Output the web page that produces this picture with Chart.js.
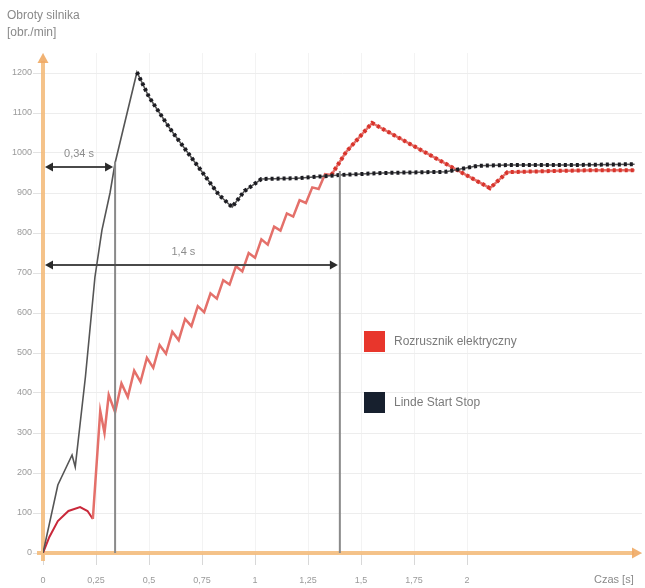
<!DOCTYPE html>
<html>
<head>
<meta charset="utf-8">
<script src="https://cdn.jsdelivr.net/npm/chart.js@4.4.0/dist/chart.umd.min.js"></script>
<style>
  html, body { margin: 0; padding: 0; background: #fff; }
  #wrap { width: 645px; height: 588px; position: relative; }
</style>
</head>
<body>
<div id="wrap"><canvas id="speedChart"></canvas></div>
<script>
  // Axis ticks
  const timeTicks = [0, 0.25, 0.5, 0.75, 1, 1.25, 1.5, 1.75, 2];
  const speedTicks = [0, 100, 200, 300, 400, 500, 600, 700, 800, 900, 1000, 1100, 1200];

  // Linde Start Stop (black)
  const lindeTime  = [0, 0.07, 0.137, 0.152, 0.2, 0.245, 0.278, 0.316, 0.34, 0.377, 0.443, 0.5, 0.6, 0.74, 0.83, 0.892, 0.95, 1.03, 1.2, 1.4, 1.6, 1.9, 2.05, 2.2, 2.5, 2.79];
  const lindeSpeed = [0, 170, 245, 215, 440, 690, 807, 900, 975, 1057, 1202, 1140, 1060, 960, 895, 865, 905, 935, 937, 945, 950, 953, 968, 970, 970, 972];
  const lindeBeadFrom = 10;

  // Rozrusznik elektryczny (red)
  const starterTime = [0, 0.03, 0.07, 0.12, 0.175, 0.21, 0.235, 0.27, 0.29,
    0.31, 0.34, 0.37, 0.40, 0.43, 0.46, 0.49, 0.52, 0.55, 0.58, 0.61, 0.64, 0.67, 0.70,
    0.73, 0.76, 0.79, 0.82, 0.85, 0.88, 0.91, 0.94, 0.97, 1.00, 1.03, 1.06, 1.09, 1.12,
    1.15, 1.18, 1.21, 1.24, 1.27, 1.30, 1.33, 1.36,
    1.43, 1.552, 2.108, 2.19, 2.4, 2.6, 2.79];
  const starterSpeed = [0, 40, 80, 105, 115, 105, 85, 355, 300,
    395, 352, 424, 390, 456, 428, 488, 463, 520, 498, 553, 532, 585, 567,
    617, 602, 649, 636, 682, 671, 717, 704, 750, 738, 784, 771, 816, 806,
    849, 841, 882, 875, 914, 910, 947, 945,
    1003, 1075, 912, 952, 955, 957, 957];
  const starterHumpEnd = 6;
  const starterBeadFrom = 44;

  // Dimension markers
  const markerTime  = [0.34, 1.4];
  const markerTop   = [978, 955];
  const arrowSpeed  = [965, 720];
  const markerLabel = ['0,34 s', '1,4 s'];

  const legendLabels = ['Rozrusznik elektryczny', 'Linde Start Stop'];
  const legendColors = ['#e8362c', '#17202e'];

  const FONT = "'Liberation Sans', Arial, sans-serif";

  function points(ts, vs) {
    return ts.map((t, i) => ({ x: t, y: vs[i] }));
  }

  function arrowHead(ctx, x, y, dir) {
    ctx.beginPath();
    ctx.moveTo(x, y);
    ctx.lineTo(x - dir * 8, y - 4.5);
    ctx.lineTo(x - dir * 8, y + 4.5);
    ctx.closePath();
    ctx.fill();
  }

  const overlay = {
    id: 'overlay',
    beforeDatasetsDraw(c) {
      const ctx = c.ctx;
      const xs = c.scales.x, ys = c.scales.y;
      const x0 = xs.getPixelForValue(0);
      const y0 = ys.getPixelForValue(0);
      const top = c.chartArea.top;
      const right = c.chartArea.right;
      ctx.save();
      ctx.strokeStyle = 'rgba(243, 184, 118, 0.85)';
      ctx.fillStyle = 'rgba(240, 170, 100, 0.9)';
      ctx.lineWidth = 4;
      ctx.beginPath();
      ctx.moveTo(x0, y0 + 8);
      ctx.lineTo(x0, top + 8);
      ctx.moveTo(x0 - 6, y0);
      ctx.lineTo(right - 8, y0);
      ctx.stroke();
      ctx.beginPath();
      ctx.moveTo(x0, top);
      ctx.lineTo(x0 - 5.5, top + 10);
      ctx.lineTo(x0 + 5.5, top + 10);
      ctx.closePath();
      ctx.fill();
      ctx.beginPath();
      ctx.moveTo(right, y0);
      ctx.lineTo(right - 10, y0 - 5.5);
      ctx.lineTo(right - 10, y0 + 5.5);
      ctx.closePath();
      ctx.fill();
      ctx.restore();
    },
    afterDatasetsDraw(c) {
      const ctx = c.ctx;
      const xs = c.scales.x, ys = c.scales.y;
      const x0 = xs.getPixelForValue(0);
      ctx.save();

      // vertical marker lines and dimension arrows
      markerTime.forEach((t, i) => {
        const xm = xs.getPixelForValue(t);
        ctx.strokeStyle = '#8a8a8a';
        ctx.lineWidth = 2;
        ctx.beginPath();
        ctx.moveTo(xm, ys.getPixelForValue(markerTop[i]));
        ctx.lineTo(xm, ys.getPixelForValue(0));
        ctx.stroke();

        const ya = ys.getPixelForValue(arrowSpeed[i]);
        ctx.strokeStyle = '#4a4a4a';
        ctx.fillStyle = '#2a2a2a';
        ctx.lineWidth = 2;
        ctx.beginPath();
        ctx.moveTo(x0 + 4, ya);
        ctx.lineTo(xm - 4, ya);
        ctx.stroke();
        arrowHead(ctx, x0 + 2, ya, -1);
        arrowHead(ctx, xm - 2, ya, 1);

        ctx.fillStyle = '#8c8c8c';
        ctx.font = '11px ' + FONT;
        ctx.textAlign = 'center';
        ctx.textBaseline = 'middle';
        ctx.fillText(markerLabel[i], (x0 + xm) / 2 - (i ? 8 : 0), ya - 13);
      });

      // legend
      ctx.textAlign = 'left';
      ctx.textBaseline = 'middle';
      ctx.font = '12px ' + FONT;
      legendLabels.forEach((lab, i) => {
        const by = 331 + i * 61;
        ctx.fillStyle = legendColors[i];
        ctx.fillRect(364, by, 21, 21);
        ctx.fillStyle = '#7a7a7a';
        ctx.fillText(lab, 394, by + 11);
      });

      // axis titles
      ctx.fillStyle = '#8a8a8a';
      ctx.font = '12px ' + FONT;
      ctx.fillText('Obroty silnika', 7, 16);
      ctx.fillText('[obr./min]', 7, 33);
      ctx.font = '11px ' + FONT;
      ctx.fillText('Czas [s]', 594, 580);
      ctx.restore();
    }
  };

  const lindeAll = points(lindeTime, lindeSpeed);
  const starterAll = points(starterTime, starterSpeed);

  new Chart(document.getElementById('speedChart'), {
    type: 'line',
    data: {
      datasets: [
        {
          label: 'Linde Start Stop (beads)',
          data: lindeAll.slice(lindeBeadFrom),
          borderColor: '#1c1c22',
          borderWidth: 4,
          borderDash: [3, 3],
          pointRadius: 0,
          tension: 0
        },
        {
          label: 'Linde Start Stop',
          data: lindeAll,
          borderColor: '#555',
          borderWidth: 1.6,
          pointRadius: 0,
          tension: 0
        },
        {
          label: 'Rozrusznik elektryczny (beads)',
          data: starterAll.slice(starterBeadFrom),
          borderColor: '#d8342c',
          borderWidth: 4,
          borderDash: [3, 3],
          pointRadius: 0,
          tension: 0
        },
        {
          label: 'Rozrusznik elektryczny',
          data: starterAll,
          borderColor: '#e4706a',
          borderWidth: 2.5,
          pointRadius: 0,
          tension: 0,
          segment: {
            borderColor: ctx => ctx.p0DataIndex < starterHumpEnd ? '#c9283a' : undefined,
            borderWidth: ctx => ctx.p0DataIndex < starterHumpEnd ? 2 : undefined
          }
        }
      ]
    },
    options: {
      responsive: true,
      maintainAspectRatio: false,
      animation: false,
      layout: { padding: { top: 53, right: 3, left: 0, bottom: 0 } },
      plugins: {
        legend: { display: false },
        tooltip: { enabled: false }
      },
      scales: {
        x: {
          type: 'linear',
          min: 0,
          max: 2.825,
          afterBuildTicks: s => { s.ticks = timeTicks.map(v => ({ value: v })); },
          afterFit: s => { s.height = 35; },
          ticks: {
            autoSkip: false,
            maxRotation: 0,
            padding: 10,
            color: '#9a9a9a',
            font: { family: FONT, size: 9 },
            callback: v => String(v).replace('.', ',')
          },
          grid: { color: '#f3f3f3', tickColor: '#d8d8d8', tickLength: 12 },
          border: { display: false }
        },
        y: {
          min: 0,
          max: 1250,
          afterBuildTicks: s => { s.ticks = speedTicks.map(v => ({ value: v })); },
          afterFit: s => { s.width = 43; },
          ticks: {
            padding: 1,
            color: '#9a9a9a',
            font: { family: FONT, size: 9 },
            callback: v => String(v)
          },
          grid: { color: '#ededed', tickColor: '#e2e2e2', tickLength: 10 },
          border: { display: false }
        }
      }
    },
    plugins: [overlay]
  });
</script>
</body>
</html>
